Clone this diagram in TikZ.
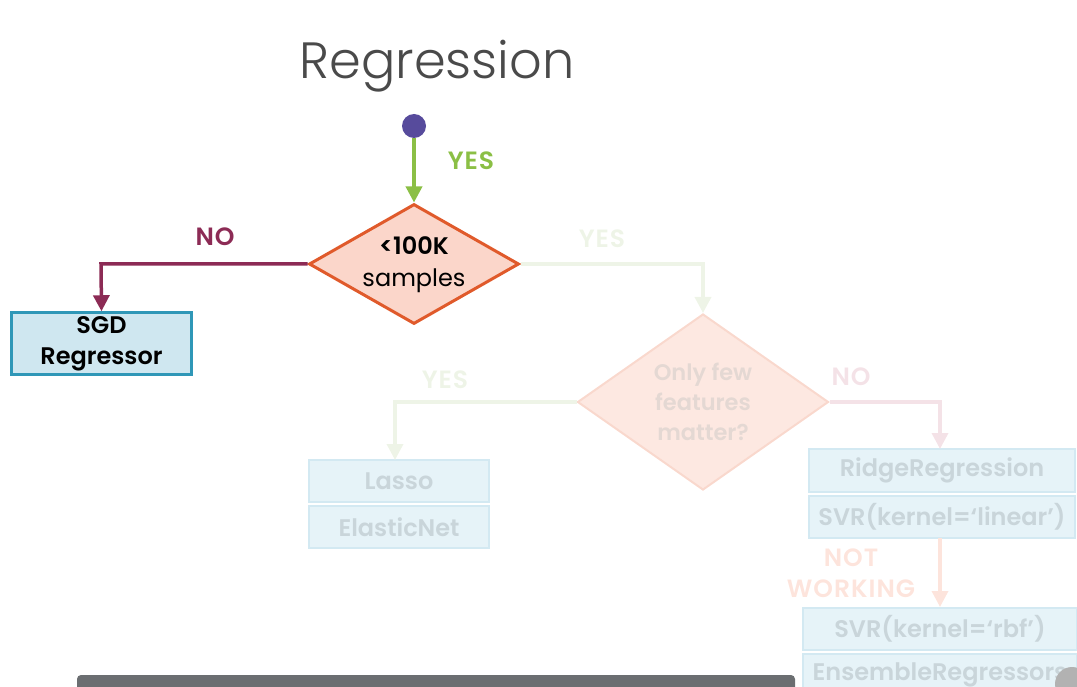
\documentclass[tikz,border=0pt]{standalone}
\usepackage{fontspec}
\setmainfont{Poppins}[BoldFont={Poppins SemiBold}]
\newfontfamily\lightfont{Poppins Light}
\usetikzlibrary{shapes.geometric,arrows.meta}
\definecolor{dotc}{HTML}{574B9C}
\definecolor{yesc}{HTML}{8BBF45}
\definecolor{noc}{HTML}{8C2B55}
\definecolor{dstroke}{HTML}{E05A2B}
\definecolor{dfill}{HTML}{FBD6CA}
\definecolor{bstroke}{HTML}{2F97B7}
\definecolor{bfill}{HTML}{CFE7F0}
\definecolor{fyes}{HTML}{EEF4E7}
\definecolor{fno}{HTML}{F4E2E7}
\definecolor{fdfill}{HTML}{FDE8E1}
\definecolor{fdstroke}{HTML}{F9D8CD}
\definecolor{fdtext}{HTML}{E4D8D3}
\definecolor{fbfill}{HTML}{E6F3F8}
\definecolor{fbstroke}{HTML}{D3E9F2}
\definecolor{fbtext}{HTML}{C9D5DA}
\definecolor{fnw}{HTML}{FDE4DC}
\definecolor{titlec}{HTML}{4A4A4A}
\definecolor{barc}{HTML}{6B6E71}
\tikzset{
  x=1pt, y=-1pt,
  tip/.style={-{Triangle[length=16pt,width=16pt]}},
  conn/.style={line width=3.5pt, tip},
  lbl/.style={font=\fontsize{25}{27}\selectfont\bfseries\addfontfeatures{LetterSpace=4}},
  decision/.style={diamond, inner sep=0pt, align=center},
  algbox/.style={rectangle, draw=bstroke, fill=bfill, line width=2.5pt, align=center,
     font=\fontsize{24}{31}\selectfont\bfseries, inner sep=0pt},
  fbox/.style={rectangle, draw=fbstroke, fill=fbfill, line width=2pt, text=fbtext,
     font=\fontsize{24}{26}\selectfont\bfseries, inner sep=0pt},
}
\begin{document}
\begin{tikzpicture}
\useasboundingbox (0,0) rectangle (1077,687);
\clip (0,0) rectangle (1077,687);
% title
\node[text=titlec, font=\lightfont\fontsize{51}{56}\selectfont] (title) at (437,66) {Regression};
% start
\node[circle, fill=dotc, minimum size=24pt, inner sep=0pt] (start) at (414,126) {};
% decision 1
\node[decision, draw=dstroke, fill=dfill, line width=3pt, minimum width=210pt, minimum height=120pt, aspect=1.75] (d1) at (414,264) {};
\node[align=center, font=\fontsize{24}{32}\selectfont] (d1t) at (414,265) {\bfseries <100K\\samples};
\draw[conn, draw=yesc] (start) -- (d1.north);
\node[lbl, text=yesc] (yes1) at (471,161) {YES};
% SGD
\node[algbox, minimum width=180pt, minimum height=62pt] (sgd) at (101.5,343.5) {SGD\\Regressor};
\coordinate (c1) at (101,264);
\draw[conn, draw=noc] (d1.west) -- (c1) -- (sgd.north);
\node[lbl, text=noc] (no1) at (215,237) {NO};
% decision 2 (faded)
\node[decision, draw=fdstroke, fill=fdfill, line width=2pt, minimum width=251pt, minimum height=176pt, aspect=1.43] (d2) at (703,402) {};
\node[align=center, text=fdtext, font=\fontsize{22.5}{30}\selectfont\bfseries] (d2t) at (703,402) {Only few\\features\\matter?};
\coordinate (c2) at (703,264);
\draw[conn, draw=fyes] (d1.east) -- (c2) -- (d2.north);
\node[lbl, text=fyes] (yes2) at (602,239) {YES};
% Lasso / ElasticNet
\node[fbox, minimum width=180pt, minimum height=42pt] (lasso) at (399,481) {Lasso};
\node[fbox, minimum width=180pt, minimum height=42pt] (elastic) at (399,527) {ElasticNet};
\coordinate (c3) at (395,402);
\draw[conn, draw=fyes] (d2.west) -- (c3) -- (395,460);
\node[lbl, text=fyes] (yes3) at (445,380) {YES};
% Ridge / SVR linear
\node[fbox, minimum width=266pt, minimum height=43pt] (ridge) at (942,470) {RidgeRegression};
\node[fbox, minimum width=266pt, minimum height=42pt] (svrl) at (942,517) {SVR(kernel=‘linear’)};
\coordinate (c4) at (940,402);
\draw[conn, draw=fno] (d2.east) -- (c4) -- (940,449);
\node[lbl, text=fno] (no2) at (851,377) {NO};
% SVR rbf / Ensemble
\node[fbox, minimum width=274pt, minimum height=42pt] (svrr) at (940,629) {SVR(kernel=‘rbf’)};
\node[fbox, minimum width=274pt, minimum height=42pt] (ens) at (940,675) {EnsembleRegressors};
\draw[conn, draw=fnw] (940,538) -- (svrr.north);
\node[lbl, text=fnw, align=center, font=\fontsize{25}{31}\selectfont\bfseries\addfontfeatures{LetterSpace=4}] (nw) at (851,573) {NOT\\WORKING};
% player bar
\fill[barc, rounded corners=4pt] (77,675) rectangle (795,700);
\fill[gray!60] (1072,684) circle (17pt);
\end{tikzpicture}
\end{document}
